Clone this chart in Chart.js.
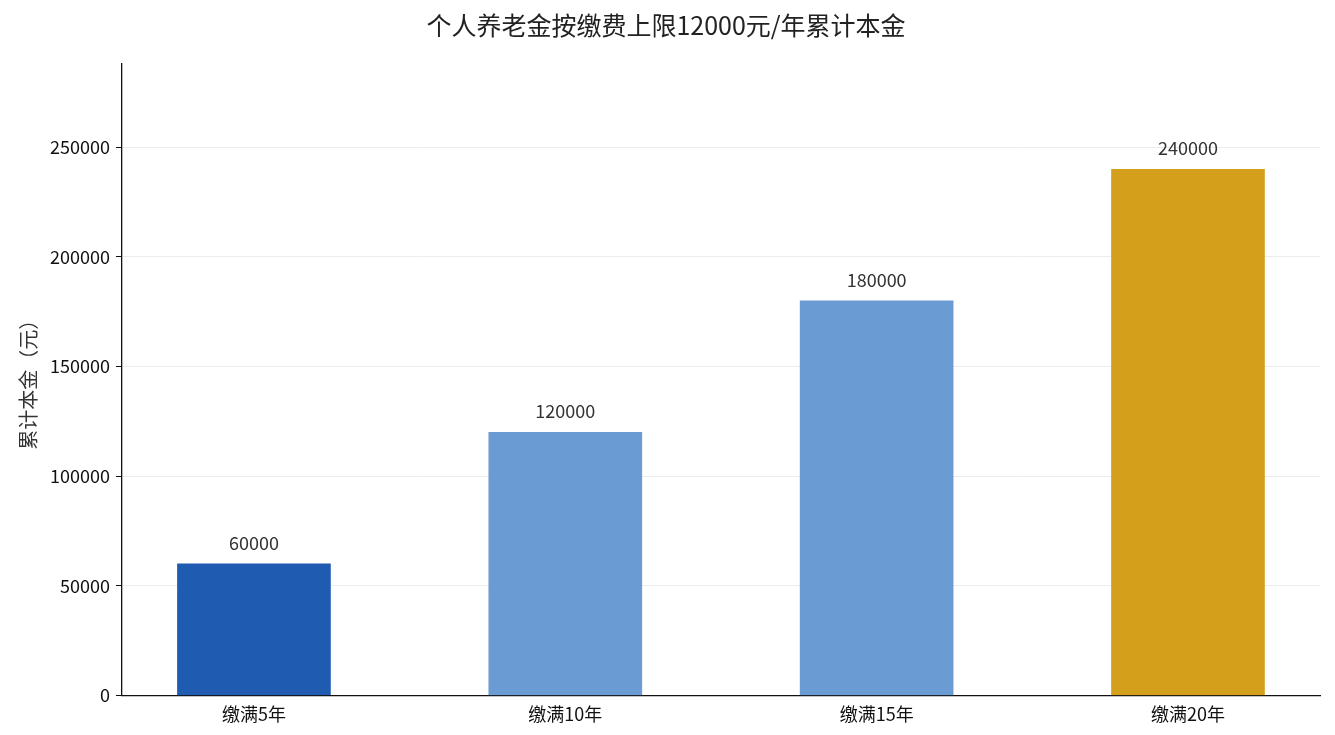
<!DOCTYPE html>
<html><head><meta charset="utf-8">
<script src="https://cdn.jsdelivr.net/npm/chart.js@4"></script>
<style>body{margin:0;background:#fff}#wrap{width:1335px;height:735px}</style>
</head><body><div id="wrap"><canvas id="c"></canvas></div>
<script>
const categories = ['缴满5年', '缴满10年', '缴满15年', '缴满20年'];
const principal = [60000, 120000, 180000, 240000];
const barColors = ['#1f5bb0', '#6b9bd3', '#6b9bd3', '#d4a01c'];
const yTicks = [0, 50000, 100000, 150000, 200000, 250000];

const font = '"Noto Sans CJK SC", "Noto Sans", sans-serif';

const valueLabels = {
  id: 'valueLabels',
  afterDatasetsDraw(chart) {
    const ctx = chart.ctx;
    const meta = chart.getDatasetMeta(0);
    ctx.save();
    ctx.font = '18px ' + font;
    ctx.fillStyle = '#333';
    ctx.textAlign = 'center';
    ctx.textBaseline = 'bottom';
    meta.data.forEach((bar, i) => ctx.fillText(String(principal[i]), bar.x, bar.y - 12));
    ctx.restore();
  }
};

new Chart(document.getElementById('c'), {
  type: 'bar',
  data: {
    datasets: [{
      data: principal.map((v, i) => ({ x: i, y: v })),
      backgroundColor: barColors,
      barThickness: 153
    }]
  },
  plugins: [valueLabels],
  options: {
    responsive: true, maintainAspectRatio: false, animation: false,
    layout: { padding: { top: 10, right: 15, left: 12, bottom: 8 } },
    plugins: {
      legend: { display: false }, tooltip: { enabled: false },
      title: { display: true, text: '个人养老金按缴费上限12000元/年累计本金', color: '#222',
        font: { family: font, size: 25, weight: 'normal' }, padding: { top: 0, bottom: 24 } }
    },
    scales: {
      x: {
        type: 'linear', min: -0.424, max: 3.424, offset: false,
        afterBuildTicks: (s) => { s.ticks = categories.map((_, i) => ({ value: i })); },
        ticks: { callback: (v) => categories[v] ?? '', color: '#111', font: { family: font, size: 18 }, padding: 2 },
        grid: { display: false, drawTicks: true, tickColor: '#111', tickLength: 6 },
        border: { color: '#111', width: 1.3 }
      },
      y: {
        min: 0, max: 288000,
        afterBuildTicks: (s) => { s.ticks = yTicks.map((v) => ({ value: v })); },
        ticks: { callback: (v) => String(v), color: '#111', font: { family: font, size: 18 }, padding: 6 },
        grid: { color: '#ececec', tickColor: '#111', tickLength: 6 },
        border: { color: '#111', width: 1.3 },
        title: { display: true, text: '累计本金（元）', color: '#333', font: { family: font, size: 20 }, padding: 4 }
      }
    }
  }
});
</script></body></html>
